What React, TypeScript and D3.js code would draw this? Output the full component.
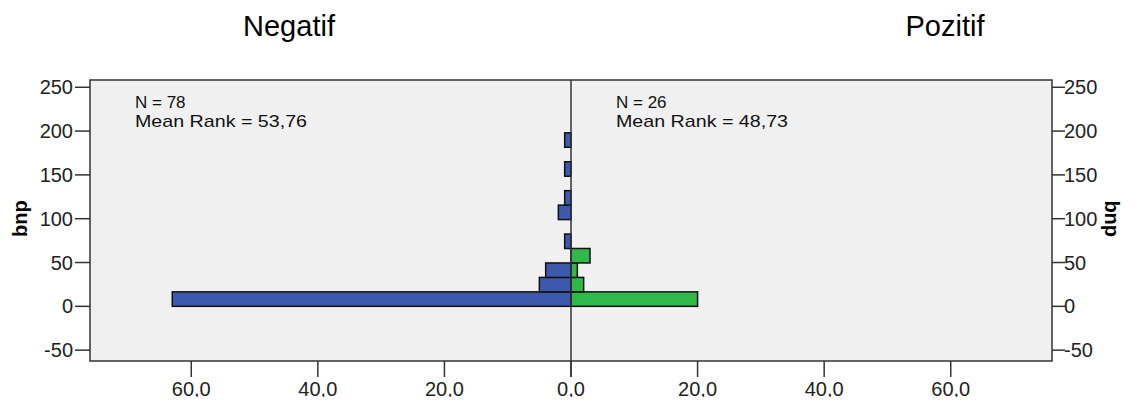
import { useRef, useEffect } from 'react';
import * as d3 from 'd3';

// bnp bins (lower edge) and counts for each group
const binStarts = [0, 16.5, 33, 49.5, 66, 82.5, 99, 115.5, 132, 148.5, 165, 181.5];
const binWidth = 16.5;
const negatifCounts = [63, 5, 4, 0, 1, 0, 2, 1, 0, 1, 0, 1];
const pozitifCounts = [20, 2, 1, 3, 0, 0, 0, 0, 0, 0, 0, 0];

const yTicks = [-50, 0, 50, 100, 150, 200, 250];
const xTicks = [20, 40, 60];
const groupTitles = ['Negatif', 'Pozitif'];
const negLabel = ['N = 78', 'Mean Rank = 53,76'];
const posLabel = ['N = 26', 'Mean Rank = 48,73'];

export default function App() {
  const ref = useRef<SVGSVGElement | null>(null);
  const width = 1143;
  const height = 405;

  useEffect(() => {
    const svg = d3.select(ref.current);
    svg.selectAll('*').remove();

    const font = 'Arial, "Liberation Sans", sans-serif';
    const left = 90, right = 1052, top = 80, bottom = 361;
    const center = 571;

    const y = d3.scaleLinear().domain([-62.4, 258.3]).range([bottom, top]);
    const xL = d3.scaleLinear().domain([0, 76]).range([center, left]);
    const xR = d3.scaleLinear().domain([0, 76]).range([center, right]);

    // titles
    svg.append('text').attr('x', 289).attr('y', 36).attr('text-anchor', 'middle')
      .attr('font-family', font).attr('font-size', 29).attr('fill', '#000').text(groupTitles[0]);
    svg.append('text').attr('x', 945).attr('y', 36).attr('text-anchor', 'middle')
      .attr('font-family', font).attr('font-size', 29).attr('fill', '#000').text(groupTitles[1]);

    // frame
    svg.append('rect')
      .attr('x', left).attr('y', top)
      .attr('width', right - left).attr('height', bottom - top)
      .attr('fill', '#f0f0f0').attr('stroke', '#333').attr('stroke-width', 1.5);

    // bars
    const rows = binStarts.map((b, i) => ({ b, neg: negatifCounts[i], pos: pozitifCounts[i] }));
    svg.append('g').selectAll('rect')
      .data(rows.filter(d => d.neg > 0))
      .join('rect')
        .attr('x', d => xL(d.neg)).attr('y', d => y(d.b + binWidth))
        .attr('width', d => center - xL(d.neg))
        .attr('height', d => y(d.b) - y(d.b + binWidth))
        .attr('fill', '#3d59ab').attr('stroke', '#111').attr('stroke-width', 1.5);
    svg.append('g').selectAll('rect')
      .data(rows.filter(d => d.pos > 0))
      .join('rect')
        .attr('x', center).attr('y', d => y(d.b + binWidth))
        .attr('width', d => xR(d.pos) - center)
        .attr('height', d => y(d.b) - y(d.b + binWidth))
        .attr('fill', '#2fb94b').attr('stroke', '#111').attr('stroke-width', 1.5);

    // center line
    svg.append('line').attr('x1', center).attr('x2', center).attr('y1', top).attr('y2', bottom + 16)
      .attr('stroke', '#333').attr('stroke-width', 1.5);

    // y ticks both sides
    const yt = svg.append('g').attr('font-family', font).attr('font-size', 20).attr('fill', '#222');
    yTicks.forEach(t => {
      yt.append('line').attr('x1', left - 15).attr('x2', left).attr('y1', y(t)).attr('y2', y(t))
        .attr('stroke', '#333').attr('stroke-width', 1.5);
      yt.append('line').attr('x1', right).attr('x2', right + 13).attr('y1', y(t)).attr('y2', y(t))
        .attr('stroke', '#333').attr('stroke-width', 1.5);
      yt.append('text').attr('x', left - 17).attr('y', y(t)).attr('dy', '0.35em')
        .attr('text-anchor', 'end').text(String(t));
      yt.append('text').attr('x', right + 12).attr('y', y(t)).attr('dy', '0.35em')
        .attr('text-anchor', 'start').text(String(t));
    });

    // x ticks
    const fmt = (v: number) => v.toFixed(1).replace('.', ',');
    const xt = svg.append('g').attr('font-family', font).attr('font-size', 20).attr('fill', '#222');
    const xs = [
      ...xTicks.map(v => ({ px: xL(v), v })),
      { px: center, v: 0 },
      ...xTicks.map(v => ({ px: xR(v), v })),
    ];
    xs.forEach(d => {
      xt.append('line').attr('x1', d.px).attr('x2', d.px).attr('y1', bottom).attr('y2', bottom + 16)
        .attr('stroke', '#333').attr('stroke-width', 1.5);
      xt.append('text').attr('x', d.px).attr('y', 396).attr('text-anchor', 'middle').text(fmt(d.v));
    });

    // axis titles
    svg.append('text').attr('transform', `translate(27, ${y(100)}) rotate(-90)`)
      .attr('text-anchor', 'middle').attr('font-family', font).attr('font-size', 20)
      .attr('font-weight', 'bold').text('bnp');
    svg.append('text').attr('transform', `translate(1105, ${y(100)}) rotate(90)`)
      .attr('text-anchor', 'middle').attr('font-family', font).attr('font-size', 20)
      .attr('font-weight', 'bold').text('bnp');

    // group annotations
    const ann = (x0: number, lines: string[]) => {
      lines.forEach((s, i) => {
        const t = svg.append('text').attr('x', x0).attr('y', 108 + i * 19)
          .attr('font-family', font).attr('font-size', 17).attr('fill', '#111')
          .text(s);
        if (i === 1) t.attr('textLength', 172).attr('lengthAdjust', 'spacingAndGlyphs');
      });
    };
    ann(135, negLabel);
    ann(616, posLabel);
  }, []);

  return <svg ref={ref} width={width} height={height} style={{ display: 'block', margin: '-8px' }} />;
}
